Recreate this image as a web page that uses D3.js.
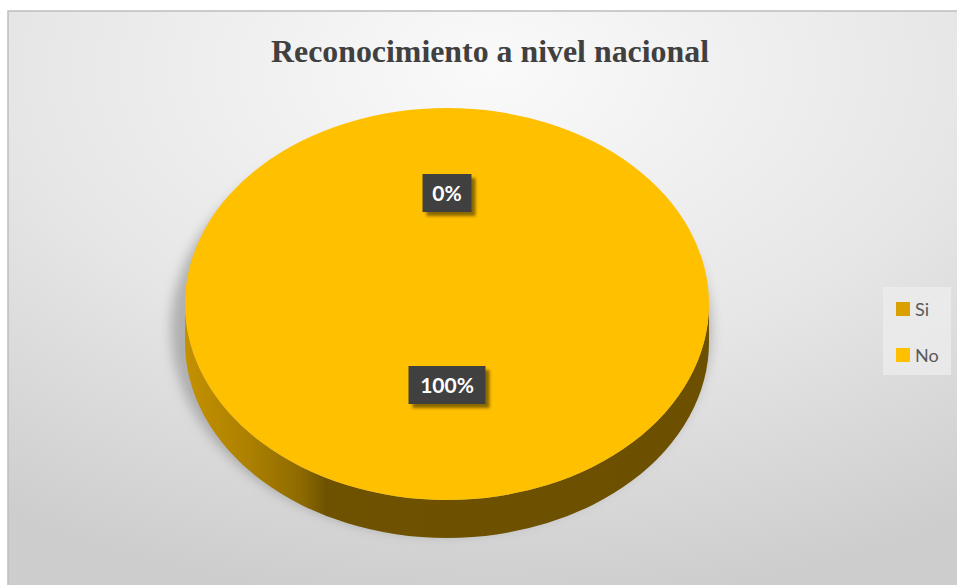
<!DOCTYPE html>
<html><head><meta charset="utf-8">
<script src="https://cdn.jsdelivr.net/npm/d3@7"></script>
<style>body{margin:0;background:#fff;}svg{display:block;}</style>
</head><body>
<script>
const title = "Reconocimiento  a  nivel nacional";
const categories = ["Si", "No"];
const values = [0, 100];
const colors = ["#D9A000", "#FFC000"];

(function(){
const W = 957, H = 585;
const svg = d3.select("body").append("svg").attr("width", W).attr("height", H);
const defs = svg.append("defs");

const bg = defs.append("radialGradient").attr("id","bg").attr("cx","50%").attr("cy","10%").attr("r","90%");
bg.append("stop").attr("offset","0%").attr("stop-color","#fafafa");
bg.append("stop").attr("offset","55%").attr("stop-color","#e6e6e6");
bg.append("stop").attr("offset","100%").attr("stop-color","#cdcdcd");

const side = defs.append("linearGradient").attr("id","side").attr("x1","0%").attr("x2","100%");
[["0%","#c39000"],["12%","#ad8100"],["22%","#8e6a00"],["27%","#6e5200"],["100%","#6c5000"]]
  .forEach(([o,c]) => side.append("stop").attr("offset",o).attr("stop-color",c));

const blur = defs.append("filter").attr("id","blur").attr("x","-20%").attr("y","-20%").attr("width","140%").attr("height","140%");
blur.append("feGaussianBlur").attr("stdDeviation", 6);

const lblShadow = defs.append("filter").attr("id","lsh").attr("x","-20%").attr("y","-20%").attr("width","150%").attr("height","160%");
lblShadow.append("feDropShadow").attr("dx",4).attr("dy",4).attr("stdDeviation",1.5).attr("flood-color","#5a4300").attr("flood-opacity",0.7);

// chart area
svg.append("rect").attr("x",8).attr("y",11).attr("width",W+10).attr("height",H+10)
  .attr("fill","url(#bg)").attr("stroke","#bdbdbd").attr("stroke-width",1.5);

svg.append("text").attr("x",490).attr("y",62).attr("text-anchor","middle")
  .attr("font-family","Liberation Serif, Times New Roman, serif").attr("font-weight","bold")
  .attr("font-size",31).attr("fill","#404040")
  .attr("textLength",438).attr("lengthAdjust","spacingAndGlyphs").text(title);

const cx = 447, cy = 304, rx = 262, ry = 196, depth = 38;

// shadow
svg.append("ellipse").attr("cx",cx-6).attr("cy",cy+depth/2+6).attr("rx",rx+8).attr("ry",ry+10)
  .attr("fill","#8c8c8c").attr("opacity",0.6).attr("filter","url(#blur)");

// side wall
svg.append("path").attr("d",
  `M${cx-rx},${cy} A${rx},${ry} 0 0 0 ${cx+rx},${cy} L${cx+rx},${cy+depth} A${rx},${ry} 0 0 1 ${cx-rx},${cy+depth} Z`)
  .attr("fill","url(#side)");

// top face
const pieData = d3.pie().sort(null).value(d => d)(values);
const arc = d3.arc().innerRadius(0).outerRadius(rx);
const face = svg.append("g").attr("transform",`translate(${cx},${cy}) scale(1,${ry/rx})`);
face.selectAll("path").data(pieData).join("path")
  .attr("d", arc).attr("fill", (d,i) => colors[i]);

// labels
const labelR = 96, labelCy = cy - 15;
const lab = svg.append("g");
pieData.forEach((d,i) => {
  const a = (d.startAngle + d.endAngle)/2;
  const x = cx + rx*0.49*Math.sin(a), y = labelCy - labelR*Math.cos(a);
  const txt = Math.round(values[i]/d3.sum(values)*100) + "%";
  const g = lab.append("g").attr("transform",`translate(${x},${y})`);
  const w = txt.length*14 + 21;
  g.append("rect").attr("x",-w/2).attr("y",-19).attr("width",w).attr("height",38)
    .attr("fill","#404040").attr("filter","url(#lsh)");
  g.append("text").attr("text-anchor","middle").attr("y",7.5)
    .attr("font-family","Lato, Open Sans, sans-serif").attr("font-weight","bold")
    .attr("font-size",21).attr("fill","#ffffff").text(txt);
});

// legend
const lg = svg.append("g");
lg.append("rect").attr("x",883).attr("y",287).attr("width",68).attr("height",88).attr("fill","#ececec").attr("opacity",0.8);
categories.forEach((c,i) => {
  const y = 309 + i*46;
  lg.append("rect").attr("x",896).attr("y",y-7).attr("width",14).attr("height",14).attr("fill",colors[i]);
  lg.append("text").attr("x",915).attr("y",y+6.5).attr("font-family","Lato, Open Sans, sans-serif")
    .attr("font-size",18).attr("fill","#595959").text(c);
});
})();
</script>
</body></html>
